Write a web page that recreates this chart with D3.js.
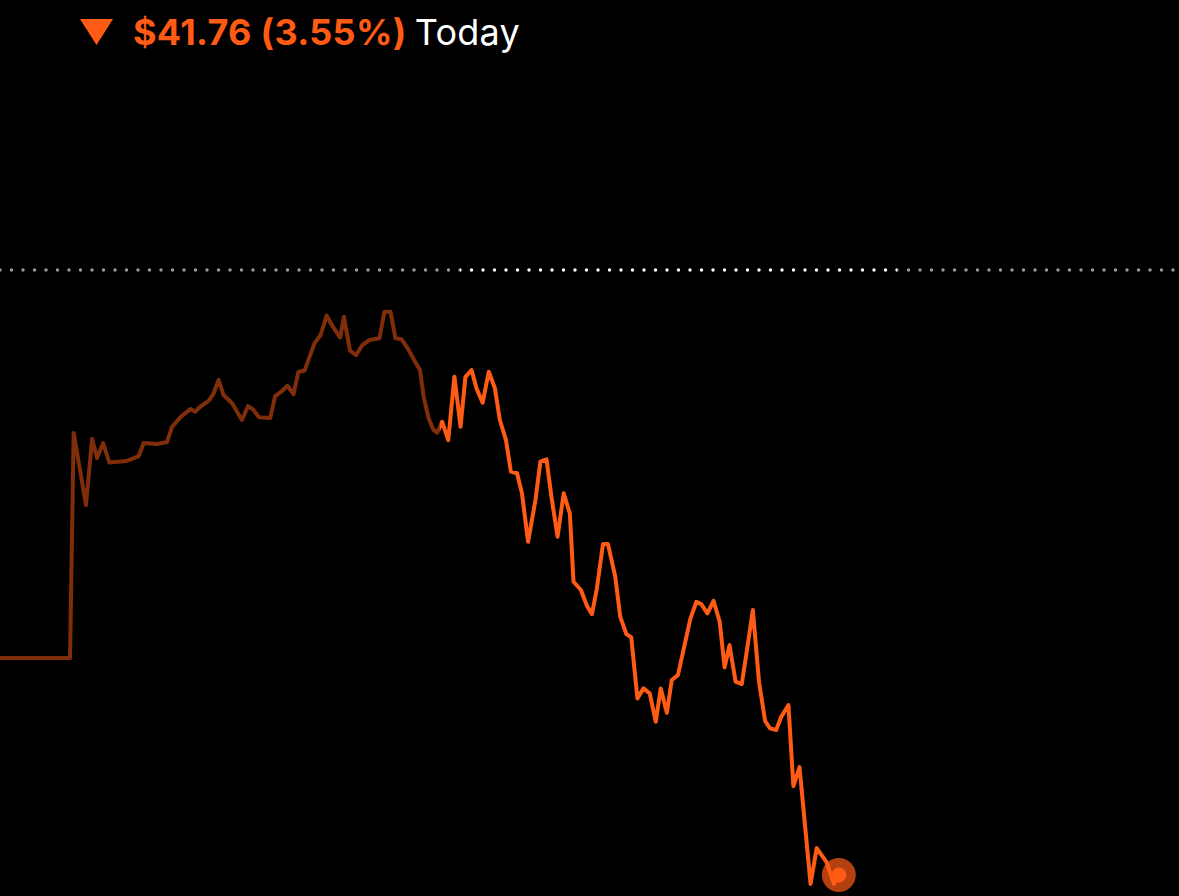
<!DOCTYPE html>
<html>
<head>
<meta charset="utf-8">
<script src="https://cdn.jsdelivr.net/npm/d3@7"></script>
<style>
  html, body { margin: 0; padding: 0; background: #000; }
  svg { display: block; }
</style>
</head>
<body>
<svg id="chart" width="1179" height="896"></svg>
<script>
// minutes since 04:00
var times = [0, 57, 60, 70, 75, 79, 84, 89, 103, 107, 113, 117, 128, 136, 140, 147, 155, 159, 163, 170,
  174, 178, 182, 189, 197, 202, 206, 211, 220, 224, 229, 234, 239, 243, 248, 256, 261, 266, 271, 277,
  280, 285, 290, 295, 301, 309, 313, 318, 322, 327, 332, 338, 342, 345, 349, 353, 356, 360, 365, 370,
  375, 379, 384, 388, 393, 398, 403, 407, 412, 416, 421, 425, 430, 436, 440, 445, 449, 454, 459, 464,
  467, 473, 478, 482, 486, 491, 495, 501, 505, 510, 514, 519, 524, 529, 534, 538, 543, 547, 552, 558,
  562, 567, 571, 576, 581, 586, 590, 594, 599, 604, 608, 613, 618, 623, 627, 632, 636, 642, 646, 651,
  660, 665, 673, 679, 683];

var prices = [1149.52, 1149.52, 1165.05, 1160.08, 1164.63, 1163.32, 1164.36, 1163.01, 1163.12, 1163.25,
  1163.46, 1164.36, 1164.29, 1164.43, 1165.46, 1166.15, 1166.70, 1166.52, 1166.86, 1167.28,
  1167.79, 1168.71, 1167.67, 1167.10, 1165.95, 1166.91, 1166.68, 1166.13, 1166.08, 1167.60,
  1167.90, 1168.31, 1167.74, 1169.26, 1169.36, 1171.24, 1171.81, 1173.15, 1172.39, 1171.63,
  1173.08, 1170.73, 1170.43, 1171.12, 1171.47, 1171.59, 1173.42, 1173.42, 1171.59, 1171.52,
  1170.89, 1169.97, 1169.40, 1167.53, 1166.06, 1165.26, 1165.07, 1165.83, 1164.56, 1168.93,
  1165.48, 1168.93, 1169.40, 1168.13, 1167.14, 1169.28, 1168.13, 1165.95, 1164.56, 1162.38,
  1162.27, 1160.89, 1157.54, 1160.42, 1163.07, 1163.23, 1160.65, 1157.89, 1160.89, 1159.50,
  1154.78, 1154.21, 1153.11, 1152.55, 1154.33, 1157.39, 1157.39, 1155.13, 1152.37, 1151.17,
  1150.95, 1146.73, 1147.42, 1147.08, 1145.12, 1147.42, 1145.74, 1148.00, 1148.34, 1150.64,
  1152.19, 1153.40, 1153.24, 1152.60, 1153.47, 1152.02, 1148.87, 1150.41, 1147.88, 1147.72,
  1149.95, 1152.83, 1147.88, 1145.17, 1144.66, 1144.55, 1145.44, 1146.27, 1140.68, 1141.99,
  1133.92, 1136.40, 1135.43, 1133.92, 1134.54];

var prevClose = 1176.30;
var change = -41.76;
var changePct = -3.55;
var changeLabel = "Today";

var dayStart = 0, dayEnd = 960;          // 04:00 .. 20:00
var highlightFrom = 358;                 // line turns bright from here
var sessionStart = 374.6, sessionEnd = 730.5;  // white part of the reference line

var orange = "#ff5b14";

var width = 1179, height = 896;
var svg = d3.select("#chart");

svg.append("rect").attr("width", width).attr("height", height).attr("fill", "#000");

var x = d3.scaleLinear().domain([dayStart, dayEnd]).range([0, width]);
var y = d3.scaleLinear().domain([1133.09, 1194.94]).range([height, 0]);

var data = times.map(function(t, i){ return {t: t, p: prices[i]}; });

// reference (previous close) line, dotted, brighter during the session
var defs = svg.append("defs");
var grad = defs.append("linearGradient")
  .attr("id", "refGrad")
  .attr("gradientUnits", "userSpaceOnUse")
  .attr("x1", 0).attr("x2", width).attr("y1", 0).attr("y2", 0);
var s0 = x(sessionStart) / width, s1 = x(sessionEnd) / width;
[[0, "#9b9b9b"], [s0, "#9b9b9b"], [s0, "#ffffff"], [s1, "#ffffff"], [s1, "#9b9b9b"], [1, "#9b9b9b"]]
  .forEach(function(s){
    grad.append("stop").attr("offset", s[0]).attr("stop-color", s[1]);
  });

svg.append("line")
  .attr("x1", 0).attr("x2", width + 2)
  .attr("y1", y(prevClose)).attr("y2", y(prevClose))
  .attr("stroke", "url(#refGrad)")
  .attr("stroke-width", 3.4)
  .attr("stroke-linecap", "round")
  .attr("stroke-dasharray", "0 11.5");

// price line, split in a dim and a bright part
defs.append("clipPath").attr("id", "clipBefore")
  .append("rect").attr("x", 0).attr("y", 0)
  .attr("width", x(highlightFrom)).attr("height", height);
defs.append("clipPath").attr("id", "clipAfter")
  .append("rect").attr("x", x(highlightFrom)).attr("y", 0)
  .attr("width", width - x(highlightFrom)).attr("height", height);

var line = d3.line()
  .x(function(d){ return x(d.t); })
  .y(function(d){ return y(d.p); });

svg.append("path")
  .datum(data)
  .attr("clip-path", "url(#clipBefore)")
  .attr("d", line)
  .attr("fill", "none")
  .attr("stroke", orange)
  .attr("stroke-opacity", 0.5)
  .attr("stroke-width", 4)
  .attr("stroke-linejoin", "round");

svg.append("path")
  .datum(data)
  .attr("clip-path", "url(#clipAfter)")
  .attr("d", line)
  .attr("fill", "none")
  .attr("stroke", orange)
  .attr("stroke-width", 4)
  .attr("stroke-linejoin", "round");

// last price marker
var last = data[data.length - 1];
svg.append("circle")
  .attr("cx", x(last.t)).attr("cy", y(last.p))
  .attr("r", 17)
  .attr("fill", orange)
  .attr("fill-opacity", 0.7);
svg.append("circle")
  .attr("cx", x(last.t)).attr("cy", y(last.p))
  .attr("r", 7.5)
  .attr("fill", orange);

// header
var header = svg.append("g").attr("transform", "translate(80,45)");
header.append("path")
  .attr("d", "M0,-26 L33,-26 L16.5,0 Z")
  .attr("fill", orange);

var txt = header.append("text")
  .attr("x", 53)
  .attr("y", 0)
  .style("font-family", "Inter, 'Noto Sans', sans-serif")
  .style("font-size", "36px")
  .style("letter-spacing", "0.3px");
txt.append("tspan")
  .attr("fill", orange)
  .style("font-weight", 700)
  .text("$" + Math.abs(change).toFixed(2) + " (" + Math.abs(changePct).toFixed(2) + "%)");
txt.append("tspan")
  .attr("fill", "#fff")
  .attr("dx", 8)
  .style("font-weight", 400)
  .text(changeLabel);
</script>
</body>
</html>
